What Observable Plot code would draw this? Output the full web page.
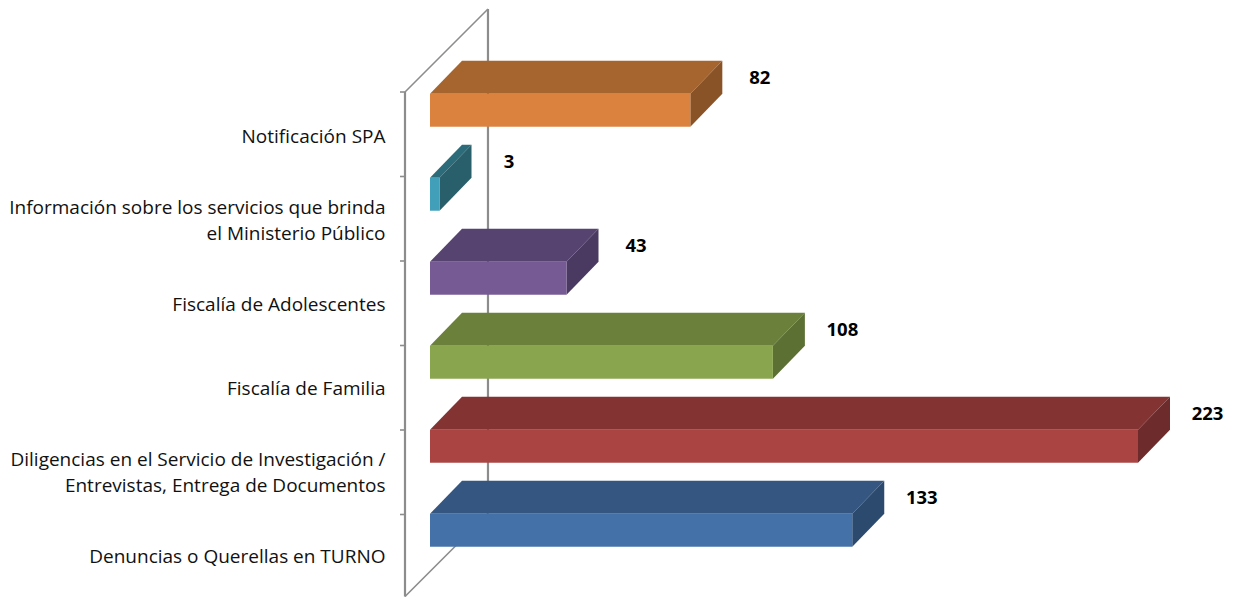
<!DOCTYPE html>
<html>
<head>
<meta charset="utf-8">
<script src="https://cdn.jsdelivr.net/npm/d3@7"></script>
<script src="https://cdn.jsdelivr.net/npm/@observablehq/plot@0.6"></script>
<style>
  html, body { margin: 0; padding: 0; background: #fff; }
  #chart { width: 1233px; height: 598px; }
</style>
</head>
<body>
<div id="chart"></div>
<script>
// ---- data ----
const categories = [
  "Notificación SPA",
  "Información sobre los servicios que brinda\nel Ministerio Público",
  "Fiscalía de Adolescentes",
  "Fiscalía de Familia",
  "Diligencias en el Servicio de Investigación /\nEntrevistas, Entrega de Documentos",
  "Denuncias o Querellas en TURNO"
];
const values = [82, 3, 43, 108, 223, 133];

// ---- styles ----
const frontColors = ["#DB823F", "#419FB9", "#755A94", "#89A54E", "#A94442", "#4472A8"];
const topColors   = ["#A6652F", "#2C6B79", "#56436F", "#6A803B", "#843333", "#345680"];
const sideColors  = ["#8A5327", "#285F6B", "#4A3A61", "#5C7034", "#6E2B2B", "#2C4A6E"];
const wallColor = "#8c8c8c";

const data = categories.map((c, i) => ({cat: c, value: values[i], i}));

// 3D mark: walls and prism bars drawn through the plot's scales
function walls(index, scales, values_, dims) {
  const x = scales.x, y = scales.y;
  const n = categories.length;
  const bw = (dims.height - dims.marginTop - dims.marginBottom) / n;
  const x0 = x(0);
  const yTop = y(categories[0]);
  const yBot = y(categories[n - 1]) + bw;
  const D = bw * 0.982;
  const g = d3.create("svg:g");
  const line = (x1, y1, x2, y2, w) => g.append("line")
    .attr("x1", x1).attr("y1", y1).attr("x2", x2).attr("y2", y2)
    .attr("stroke", wallColor).attr("stroke-width", w);
  line(x0 + D, yTop - D, x0 + D, yBot - D, 2.2);
  line(x0, yTop, x0 + D, yTop - D, 1.6);
  line(x0, yBot, x0 + D, yBot - D, 1.6);
  line(x0, yTop, x0, yBot, 2.2);
  for (let k = 0; k <= n; k++) {
    const yy = yTop + k * bw;
    line(x0 - 5, yy, x0, yy, 1.6);
  }
  return g.node();
}

function bars(index, scales, values_, dims) {
  const x = scales.x, y = scales.y;
  const n = categories.length;
  const bw = (dims.height - dims.marginTop - dims.marginBottom) / n;
  const barH = bw * 0.39;
  const fx = 25, fy = 24, b = 57;
  const g = d3.create("svg:g");
  for (let k = n - 1; k >= 0; k--) {
    const d = data[k];
    const xa = x(0), xb = x(d.value);
    const yc = y(d.cat) + bw / 2;
    const yt = yc - barH / 2;
    const pts = (arr) => arr.map(p => p.join(",")).join(" ");
    g.append("polygon").attr("points", pts([
      [xa + fx, yt - fy], [xb + fx, yt - fy], [xb + b, yt - b], [xa + b, yt - b]
    ])).attr("fill", topColors[k]);
    g.append("polygon").attr("points", pts([
      [xb + fx, yt - fy], [xb + b, yt - b], [xb + b, yt - b + barH], [xb + fx, yt - fy + barH]
    ])).attr("fill", sideColors[k]);
    g.append("rect")
      .attr("x", xa + fx).attr("y", yt - fy)
      .attr("width", xb - xa).attr("height", barH)
      .attr("fill", frontColors[k]);
  }
  return g.node();
}

const chart = Plot.plot({
  width: 1233,
  height: 598,
  marginLeft: 405,
  marginRight: 120,
  marginTop: 90,
  marginBottom: 1,
  style: {fontFamily: "'Open Sans', sans-serif", fontSize: "17px", color: "#000", background: "#fff"},
  x: {domain: [0, 223], axis: null},
  y: {type: "band", domain: categories, padding: 0, label: null},
  marks: [
    walls,
    bars,
    Plot.axisY({tickSize: 0, tickPadding: 20, fontSize: 19, lineHeight: 1.37, textAnchor: "end", fill: "#111", label: null}),
    Plot.text(data, {
      x: "value", y: "cat", text: d => String(d.value),
      dx: 94, dy: -56, fontWeight: "bold", fontSize: 18.5, fill: "#000"
    })
  ]
});
document.getElementById("chart").appendChild(chart);
</script>
</body>
</html>
